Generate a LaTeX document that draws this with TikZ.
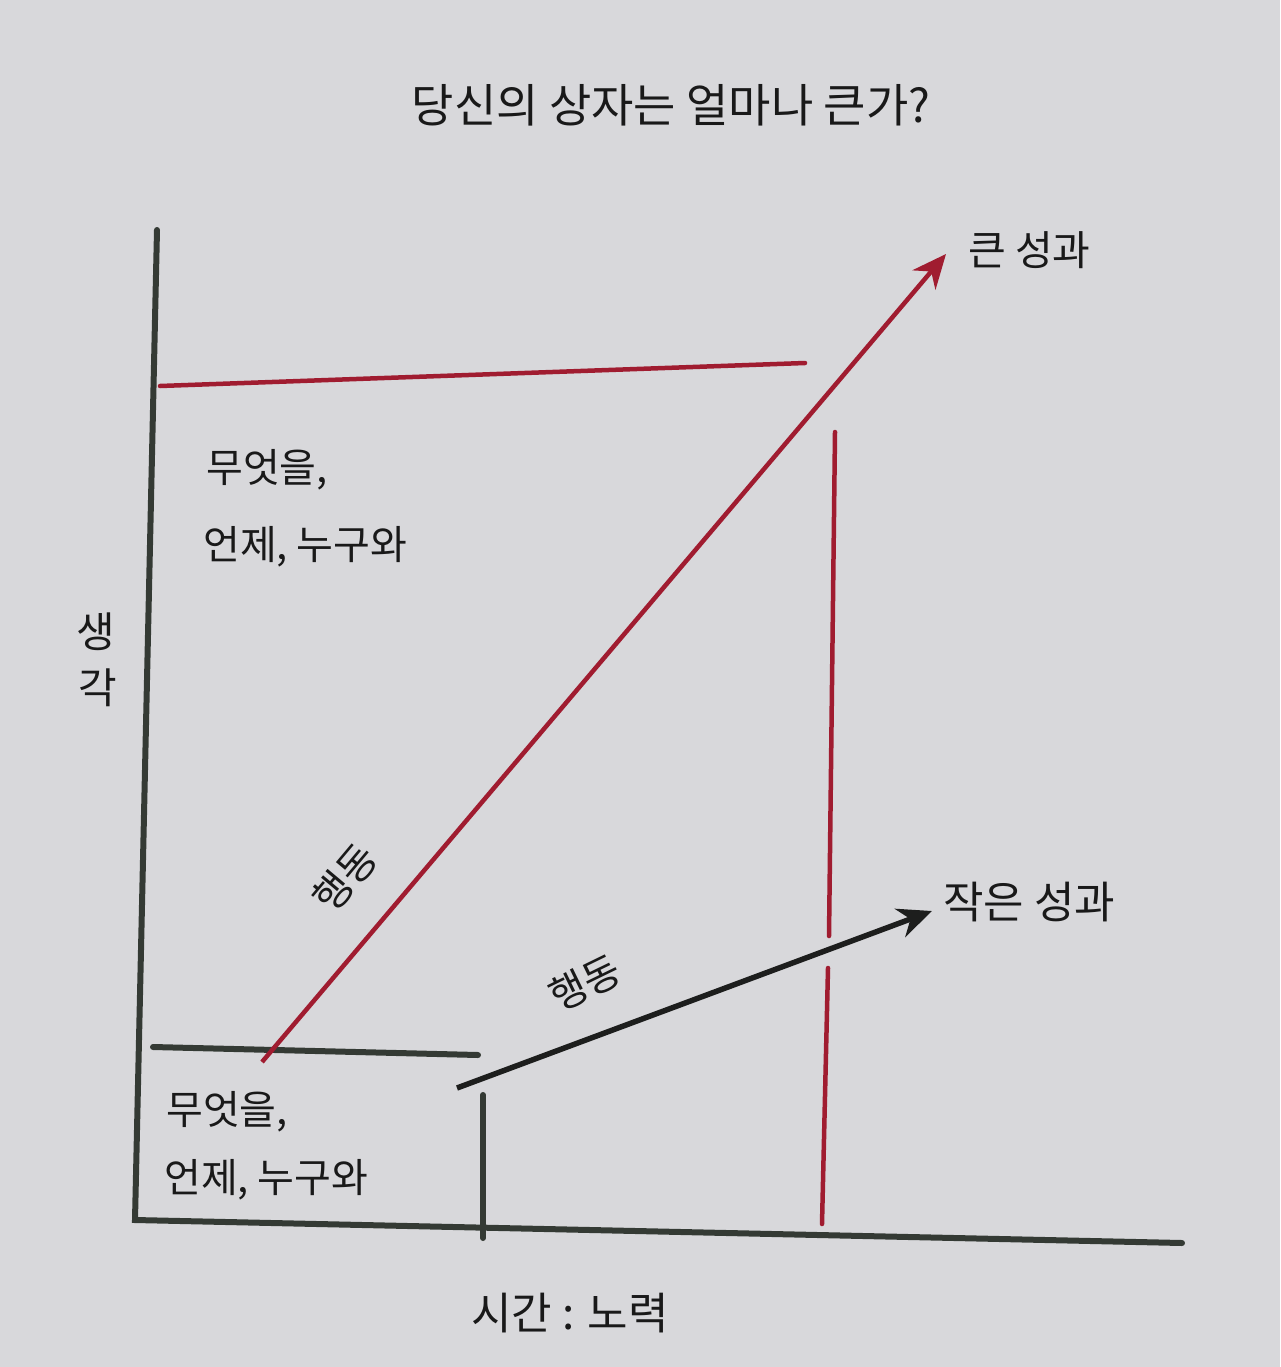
\documentclass[tikz,border=0pt]{standalone}
\usepackage{fontspec}
\setmainfont{Noto Sans CJK KR}
\usetikzlibrary{arrows.meta}
\definecolor{paper}{RGB}{216,216,219}
\definecolor{inkred}{RGB}{160,28,48}
\definecolor{inkdark}{RGB}{52,58,52}
\definecolor{inkblack}{RGB}{25,25,25}
\tikzset{
  darkline/.style={draw=inkdark, line width=6pt, line cap=round},
  redline/.style={draw=inkred, line width=4.5pt, line cap=round},
  lbl/.style={text=inkblack, font=\fontsize{40}{46}\selectfont, inner sep=0pt},
  bigtip/.style={-{Stealth[length=34pt,width=30pt]}},
}
\begin{document}
\begin{tikzpicture}[x=1pt,y=-1pt]
\fill[paper] (0,0) rectangle (1280,1367);
\useasboundingbox (0,0) rectangle (1280,1367);

% title
\node[lbl, font=\fontsize{46}{52}\selectfont] (title) at (671,105) {당신의 상자는 얼마나 큰가?};

% axes
\coordinate (ytop) at (157,230);
\coordinate (origin) at (135,1220);
\coordinate (xend) at (1182,1243);
\draw[darkline] (ytop) -- (origin) -- (xend);

% big box (red)
\coordinate (rtl) at (160,386);
\coordinate (rtr) at (805,363);
\draw[redline] (rtl) -- (rtr);
\coordinate (rv1) at (835,432);
\coordinate (rv2) at (829,936);
\coordinate (rv3) at (828,968);
\coordinate (rv4) at (822,1224);
\draw[redline] (rv1) -- (rv2);
\draw[redline] (rv3) -- (rv4);

% small box (dark)
\coordinate (btl) at (153,1047);
\coordinate (btr) at (478,1055);
\draw[darkline] (btl) -- (btr);
\coordinate (bv1) at (483,1095);
\coordinate (bv2) at (483,1238);
\draw[darkline] (bv1) -- (bv2);

% arrows
\coordinate (rs) at (262,1062);
\coordinate (re) at (946,254);
\draw[redline, bigtip, line cap=butt] (rs) -- (re);
\coordinate (bs) at (457,1088);
\coordinate (be) at (932,911);
\draw[darkline, draw=inkblack!85!inkdark, bigtip, line cap=butt, line width=5.5pt] (bs) -- (be);

% labels
\node[lbl, anchor=west] (w1) at (206,470) {무엇을,};
\node[lbl, anchor=west] (w2) at (203,547) {언제, 누구와};
\node[lbl, anchor=west] (w3) at (166,1112) {무엇을,};
\node[lbl, anchor=west] (w4) at (164,1180) {언제, 누구와};
\node[lbl, font=\fontsize{42}{46}\selectfont] (ya1) at (96,632) {생};
\node[lbl, font=\fontsize{42}{46}\selectfont] (ya2) at (98,688) {각};
\node[lbl, rotate=50] (act1) at (345,878) {행동};
\node[lbl, rotate=26] (act2) at (585,983) {행동};
\node[lbl, anchor=west, font=\fontsize{41}{46}\selectfont] (big) at (968,250) {큰 성과};
\node[lbl, anchor=west, font=\fontsize{44}{46}\selectfont] (small) at (943,902) {작은 성과};
\node[lbl, font=\fontsize{44}{46}\selectfont] (xlab) at (570,1313) {시간 : 노력};
\end{tikzpicture}
\end{document}
